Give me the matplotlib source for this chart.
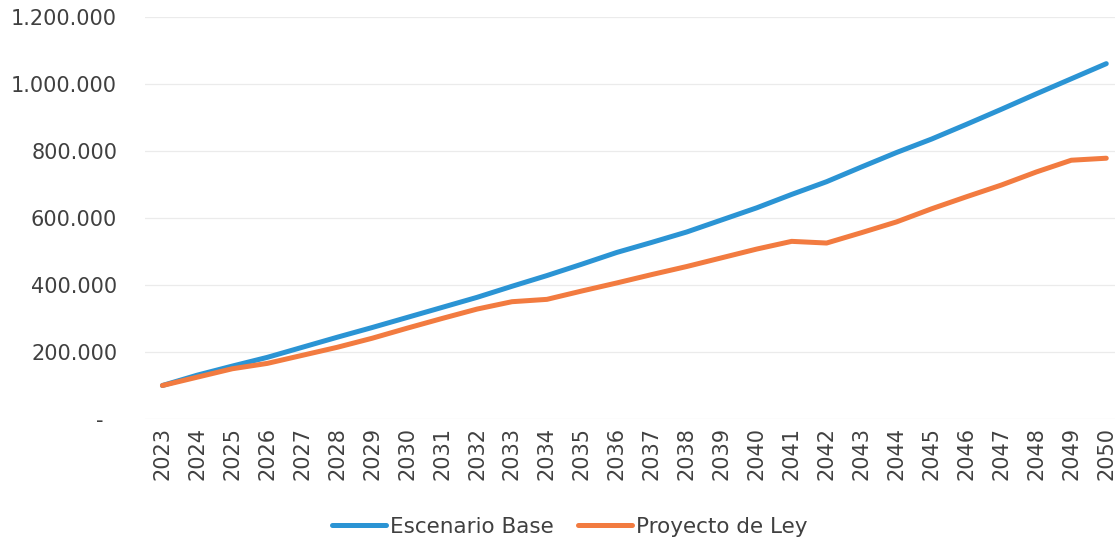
import matplotlib.pyplot as plt
from matplotlib.ticker import FuncFormatter

years = list(range(2023, 2051))
escenario_base = [100000, 131000, 158000, 184000, 214000, 244000, 273000, 303000, 333000, 363000,
                  396000, 428000, 462000, 497000, 527000, 558000, 594000, 630000, 670000, 708000,
                  752000, 795000, 835000, 879000, 924000, 970000, 1015000, 1060000]
proyecto_ley = [100000, 125000, 150000, 166000, 190000, 214000, 241000, 271000, 300000, 328000,
                350000, 357000, 382000, 406000, 431000, 455000, 481000, 507000, 530000, 525000,
                556000, 588000, 627000, 663000, 698000, 737000, 772000, 778000]
y_ticks = [0, 200000, 400000, 600000, 800000, 1000000, 1200000]

BLUE = '#2B94D4'
ORANGE = '#F27B40'
TXT = '#404040'


def fmt_miles(v, pos):
    # excel style: dots as thousand separators, dash for zero
    if v == 0:
        return '-  '
    return '{:,.0f}'.format(v).replace(',', '.')


fig = plt.figure(figsize=(11.15, 5.4), dpi=100)
ax = fig.add_axes([0.13, 0.224, 0.87, 0.745])

x = list(range(len(years)))
ax.plot(x, escenario_base, color=BLUE, lw=3.6, solid_capstyle='round', label='Escenario Base')
ax.plot(x, proyecto_ley, color=ORANGE, lw=3.6, solid_capstyle='round', label='Proyecto de Ley')

ax.set_xlim(-0.5, 27.25)
ax.set_ylim(0, 1200000)
ax.set_yticks(y_ticks)
ax.yaxis.set_major_formatter(FuncFormatter(fmt_miles))
ax.set_xticks(x)
ax.set_xticklabels([str(y) for y in years], rotation=90)

ax.grid(axis='y', color='#EBEBEB', lw=0.9)
ax.set_axisbelow(True)
for s in ax.spines.values():
    s.set_visible(False)
ax.tick_params(axis='y', length=0, pad=20, labelsize=15, labelcolor=TXT)
ax.tick_params(axis='x', length=0, pad=6, labelsize=15, labelcolor=TXT)

fig.legend(loc='lower center', bbox_to_anchor=(0.511, -0.03), ncol=2, frameon=False,
           fontsize=15.5, handlelength=2.5, handletextpad=0.2, columnspacing=1.1,
           labelcolor=TXT)

fig.savefig('out.png', dpi=100, facecolor='white')
